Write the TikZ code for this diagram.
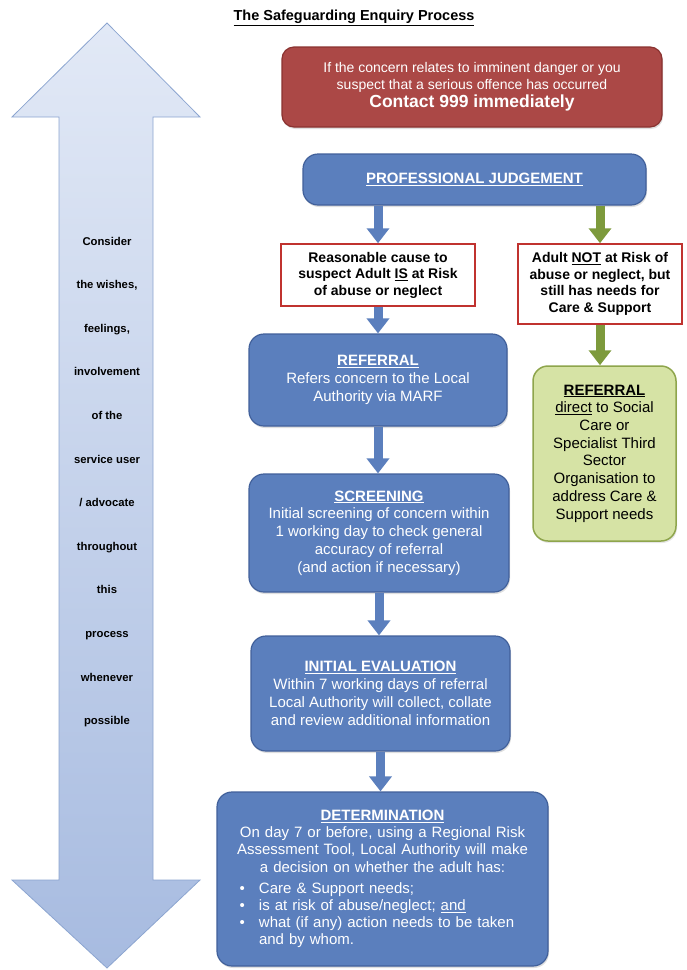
\documentclass[tikz,border=0pt]{standalone}
\usepackage{fontspec}
\setmainfont{Liberation Sans}
\usetikzlibrary{arrows.meta,shadows}

\definecolor{boxblue}{HTML}{5B7FBD}
\definecolor{blueline}{HTML}{41609A}
\definecolor{boxred}{HTML}{AB4846}
\definecolor{redline}{HTML}{8A3230}
\definecolor{framered}{HTML}{C0322F}
\definecolor{boxgreen}{HTML}{D6E3A5}
\definecolor{greenline}{HTML}{8EA54C}
\definecolor{arrowgreen}{HTML}{7D9A3C}
\definecolor{arrowtop}{HTML}{E2E9F6}
\definecolor{arrowbot}{HTML}{A7BBE0}
\definecolor{arrowline}{HTML}{8CA5D0}

\newcommand{\ul}[1]{\underline{#1}}
\newcommand{\bulletline}[1]{\makebox[\linewidth][l]{\hspace{12pt}\makebox[19.5pt][l]{\textbullet}#1}}
\newcommand{\contline}[1]{\makebox[\linewidth][l]{\hspace{31.5pt}#1}}

\tikzset{
  bluebox/.style={draw=blueline, fill=boxblue, line width=1.2pt, rounded corners=15pt,
    text=white, align=center, inner sep=0pt, font=\fontsize{15}{17.8}\selectfont,
    drop shadow={opacity=0.25, shadow xshift=1pt, shadow yshift=-2pt}},
  redbox/.style={draw=redline, fill=boxred, line width=1.2pt, rounded corners=12pt,
    text=white, align=center, inner sep=0pt, font=\fontsize{14}{16.5}\selectfont,
    drop shadow={opacity=0.25, shadow xshift=1pt, shadow yshift=-2pt}},
  framebox/.style={draw=framered, fill=white, line width=1.5pt, align=center,
    inner sep=0pt, font=\fontsize{14}{16.5}\selectfont\bfseries},
  greenbox/.style={draw=greenline, fill=boxgreen, line width=1.5pt, rounded corners=15pt,
    align=center, inner sep=0pt, font=\fontsize{15}{17.7}\selectfont,
    drop shadow={opacity=0.2, shadow xshift=1pt, shadow yshift=-2pt}},
  bluearrow/.style={draw=boxblue, line width=9pt, -{Triangle[width=22pt,length=15pt]}},
  greenarrow/.style={draw=arrowgreen, line width=9pt, -{Triangle[width=22pt,length=15pt]}}
}

\begin{document}
\begin{tikzpicture}[x=1pt, y=-1pt]
  \useasboundingbox (0,0) rectangle (686,970);

  % side arrow
  \path[top color=arrowtop, bottom color=arrowbot, draw=arrowline, line width=0.8pt]
    (107,23) -- (200,117) -- (153,117) -- (153,880) -- (200,880) -- (107,968)
    -- (12,880) -- (59,880) -- (59,117) -- (12,117) -- cycle;
  \node[align=center, font=\fontsize{11.3}{43.6}\selectfont\bfseries] (wishes) at (107,482)
    {Consider\\the wishes,\\feelings,\\involvement\\of the\\service user\\/ advocate\\throughout\\this\\process\\whenever\\possible};

  \node[font=\fontsize{14.5}{17}\selectfont\bfseries] (title) at (354,18)
    {\ul{The Safeguarding Enquiry Process}};

  \node[redbox, minimum width=380pt, minimum height=80pt] (danger) at (472,87)
    {If the concern relates to imminent danger or you\\
     suspect that a serious offence has occurred\\[2pt]
     {\fontsize{17.5}{21}\selectfont\bfseries Contact 999 immediately}};

  \node[bluebox, minimum width=343pt, minimum height=51pt] (judge) at (474.5,179.5)
    {\bfseries\ul{PROFESSIONAL JUDGEMENT}};

  \node[framebox, minimum width=194pt, minimum height=62pt] (atrisk) at (378,275)
    {Reasonable cause to\\suspect Adult \ul{IS} at Risk\\of abuse or neglect};
  \node[framebox, minimum width=164pt, minimum height=80pt] (notrisk) at (600,284)
    {Adult \ul{NOT} at Risk of\\abuse or neglect, but\\still has needs for\\Care \& Support};

  \node[bluebox, minimum width=258pt, minimum height=92pt] (referral) at (378,380)
    {\textbf{\ul{REFERRAL}}\\Refers concern to the Local\\Authority via MARF};
  \node[greenbox, minimum width=143pt, minimum height=175pt] (direct) at (604.5,453.5)
    {\textbf{\ul{REFERRAL}}\\\ul{direct} to Social\\Care or\\Specialist Third\\Sector\\Organisation to\\address Care \&\\Support needs};
  \node[bluebox, minimum width=260pt, minimum height=118pt] (screen) at (379,533)
    {\textbf{\ul{SCREENING}}\\Initial screening of concern within\\1 working day to check general\\accuracy of referral\\(and action if necessary)};
  \node[bluebox, minimum width=259pt, minimum height=115pt] (evaluate) at (380.5,693.5)
    {\textbf{\ul{INITIAL EVALUATION}}\\Within 7 working days of referral\\Local Authority will collect, collate\\and review additional information};
  \node[bluebox, minimum width=331pt, minimum height=174pt, text width=310pt,
    font=\fontsize{15}{17.2}\selectfont] (determ) at (382.5,879)
    {\textbf{\ul{DETERMINATION}}\\
     On day 7 or before, using a Regional Risk\\
     Assessment Tool, Local Authority will make\\
     a decision on whether the adult has:\\[4pt]
     \bulletline{Care \& Support needs;}\\
     \bulletline{is at risk of abuse/neglect; \ul{and}}\\
     \bulletline{what (if any) action needs to be taken}\\
     \contline{and by whom.}};

  % connectors
  \draw[bluearrow] (judge.south -| atrisk.north) -- (atrisk.north);
  \draw[greenarrow] (judge.south -| notrisk.north) -- (notrisk.north);
  \draw[bluearrow] (atrisk.south) -- (referral.north);
  \draw[greenarrow] (notrisk.south) -- (notrisk.south |- direct.north);
  \draw[bluearrow] (referral.south) -- (referral.south |- screen.north);
  \draw[bluearrow] (screen.south) -- (screen.south |- evaluate.north);
  \draw[bluearrow] (evaluate.south) -- (evaluate.south |- determ.north);
\end{tikzpicture}
\end{document}
